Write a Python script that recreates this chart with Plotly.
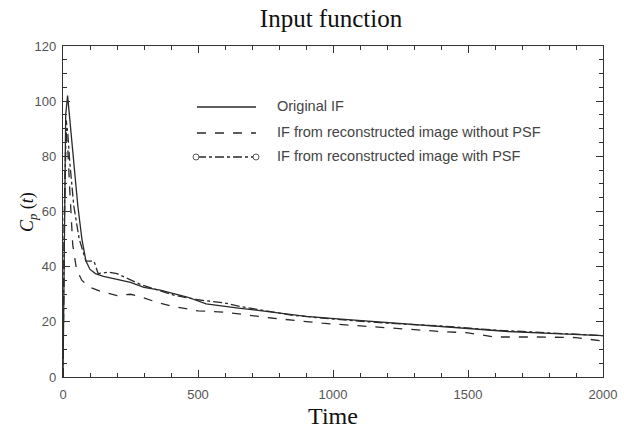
import plotly.graph_objects as go

# ---- data ----
t_orig = [0, 5, 10, 17, 25, 40, 55, 70, 85, 100, 120, 150, 200, 250, 300, 360, 460, 530,
          650, 780, 900, 1030, 1170, 1300, 1500, 1650, 1800, 2000]
orig = [0, 60, 95, 102, 94, 78, 62, 50, 42, 39, 37.5, 36.5, 35.5, 34.3, 32.5, 31.5, 29, 26.5,
        25, 23.3, 22, 21, 20, 19, 17.5, 16.5, 15.8, 15]

t_nopsf = [0, 5, 11, 18, 25, 36, 50, 70, 100, 140, 200, 250, 290, 350, 410, 500, 600, 780,
           960, 1100, 1250, 1400, 1500, 1600, 1750, 1900, 2000]
nopsf = [0, 55, 90, 82, 68, 48, 39, 35, 32.5, 31, 29.5, 30, 29, 27, 25.5, 24, 23.5, 21.3,
         19.5, 18.5, 17.5, 16.5, 16, 14.5, 14.5, 14.3, 13]

t_psf = [0, 5, 12, 18, 25, 40, 60, 85, 115, 130, 170, 200, 290, 410, 500, 570, 600, 660,
         840, 1000, 1200, 1400, 1600, 1800, 2000]
psf = [0, 60, 93, 88, 78, 62, 50, 42, 42, 37.5, 38, 37.5, 33.4, 29.7, 28, 27.3, 26.8, 25.5,
       22.5, 21, 19.5, 18.5, 17, 16, 15]

names = ["Original IF",
         "IF from reconstructed image without PSF",
         "IF from reconstructed image with PSF"]
dashes = ["solid", "dash", "dashdot"]

x_ticks = [0, 500, 1000, 1500, 2000]
y_ticks = [0, 20, 40, 60, 80, 100, 120]

LINE = "#2a2a2a"

fig = go.Figure()
for tx, ty, nm, ds in zip([t_orig, t_nopsf, t_psf], [orig, nopsf, psf], names, dashes):
    fig.add_trace(go.Scatter(x=tx, y=ty, mode="lines", name=nm, showlegend=False,
                             line=dict(color=LINE, width=1.3, dash=ds)))

# ---- custom legend (layout decoration in paper coordinates) ----
X0, X1 = 63, 603
Y0, Y1 = 377, 46
def px(xp):
    return (xp - X0) / (X1 - X0)
def py(yp):
    return (Y0 - yp) / (Y0 - Y1)

rows = [107, 133, 157]
for nm, ds, ry in zip(names, dashes, rows):
    fig.add_shape(type="line", xref="paper", yref="paper",
                  x0=px(197), x1=px(256), y0=py(ry), y1=py(ry),
                  line=dict(color=LINE, width=1.5, dash=ds))
    fig.add_annotation(xref="paper", yref="paper", x=px(275), y=py(ry - 1),
                       text=nm, showarrow=False, xanchor="left", yanchor="middle",
                       font=dict(family="Liberation Sans, Arial", size=14.5, color="#444"))
for cx in (196, 256):
    r = 3
    fig.add_shape(type="circle", xref="paper", yref="paper",
                  x0=px(cx - r), x1=px(cx + r), y0=py(157 + r), y1=py(157 - r),
                  line=dict(color="#555", width=1), fillcolor="white")

# y-axis title as a rotated annotation
fig.add_annotation(xref="paper", yref="paper", x=px(28), y=py(212),
                   text="<i>C<sub>p</sub></i> (<i>t</i>)", textangle=-90, showarrow=False,
                   xanchor="center", yanchor="middle",
                   font=dict(family="Liberation Serif, Times New Roman", size=18, color="#111"))

axis_common = dict(
    showline=True, linecolor="#333", linewidth=1.2, mirror="ticks",
    ticks="inside", ticklen=7, tickcolor="#333", showgrid=False, zeroline=False,
    automargin=False,
    tickfont=dict(family="Liberation Sans, Arial", size=13, color="#555"),
)
fig.update_xaxes(range=[0, 2000], tickvals=x_ticks, ticklabelstandoff=5,
                 minor=dict(ticks="inside", dtick=100, ticklen=4, tickcolor="#333"),
                 title=dict(text="Time", font=dict(family="Liberation Serif, Times New Roman", size=24, color="#111"), standoff=6),
                 **axis_common)
fig.update_yaxes(range=[0, 120], tickvals=y_ticks, ticklabelstandoff=3,
                 minor=dict(ticks="inside", dtick=5, ticklen=4, tickcolor="#333"),
                 **axis_common)

fig.update_layout(
    width=624, height=429,
    margin=dict(l=63, r=21, t=46, b=52),
    paper_bgcolor="white", plot_bgcolor="white",
    title=dict(text="Input function", x=px(331), xref="paper", y=1 - 18 / 429, yanchor="middle",
               font=dict(family="Liberation Serif, Times New Roman", size=25, color="#111")),
)

fig.write_html("out.html", config={"displayModeBar": False},
               post_script="document.body.style.margin='0';")
